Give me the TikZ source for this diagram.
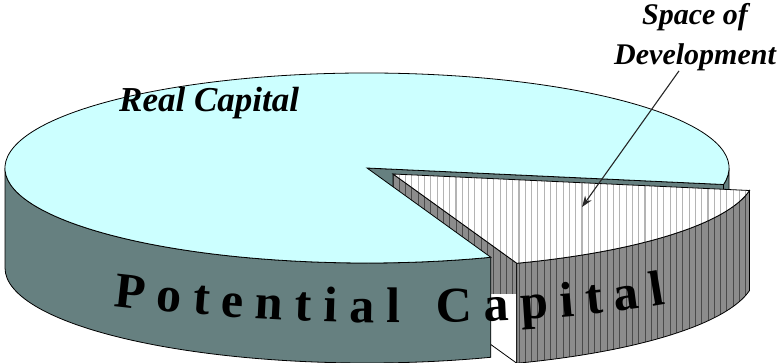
\documentclass[tikz,border=0pt]{standalone}
\usepackage{fontspec}
\setmainfont{Liberation Serif}
\usetikzlibrary{arrows.meta,decorations.text}
\definecolor{topcyan}{HTML}{CCFFFF}
\definecolor{sideteal}{HTML}{668080}
\definecolor{slicegrey}{HTML}{8C8C8C}
\definecolor{darkhatch}{HTML}{4A4A4A}
\definecolor{lighthatch}{HTML}{B4B4B4}
\newcommand\bigsidefont{\fontsize{50}{50}\selectfont\bfseries}
\tikzset{
  edge/.style={draw=black,line width=.8pt},
  topface/.style={edge,fill=topcyan},
  sideface/.style={edge,fill=sideteal},
  darkline/.style={draw=darkhatch,line width=.9pt},
  lightline/.style={draw=lighthatch,line width=1.1pt},
  pointer/.style={-{Stealth[length=11pt,width=8pt]},draw=black!85,line width=1.1pt},
  sign/.style={font=\fontsize{30}{40}\selectfont\bfseries\itshape,inner sep=0pt,align=center}
}

\begin{document}
\begin{tikzpicture}[x=1pt,y=1pt]
  \useasboundingbox (0,0) rectangle (778,362);

  % back faces of the big piece (cut face along the right edge)
  \begin{scope}[shift={(367,194)},x radius=362pt,y radius=95pt]
    \path[sideface] (0,0) -- (-10:362pt and 95pt) -- ++(0,-100) -- (0,-100) -- cycle;
    \path[sideface] (-10:362pt and 95pt) arc[start angle=-10,end angle=0] -- ++(0,-100) arc[start angle=0,end angle=-10] -- cycle;
  \end{scope}

  % cut face of the pulled-out slice
  \begin{scope}[shift={(393,188)}]
    \begin{scope}
      \clip (0,0) -- (-70:362pt and 95pt) -- ++(0,-100) -- (0,-100) -- cycle;
      \fill[slicegrey] (-10,-120) rectangle (140,10);
      \foreach \x in {0,6.3,...,140} \draw[darkline] (\x,-120) -- (\x,10);
    \end{scope}
    \path[edge] (0,0) -- (-70:362pt and 95pt) -- ++(0,-100) -- (0,-100) -- cycle;
  \end{scope}

  % big piece
  \begin{scope}[shift={(367,194)},x radius=362pt,y radius=95pt]
    \path[sideface] (180:362pt and 95pt) arc[start angle=180,end angle=290] -- ++(0,-100) arc[start angle=290,end angle=180] -- cycle;
    \path[topface] (0,0) -- (-10:362pt and 95pt) arc[start angle=-10,end angle=290] -- cycle;
  \end{scope}

  % slice: curved side and top
  \begin{scope}[shift={(393,188)},x radius=362pt,y radius=95pt]
    \begin{scope}
      \clip (-70:362pt and 95pt) arc[start angle=-70,end angle=-10] -- ++(0,-100) arc[start angle=-10,end angle=-70] -- cycle;
      \fill[slicegrey] (100,-220) rectangle (370,0);
      \foreach \x in {0,6.3,...,370} \draw[darkline] (\x,-220) -- (\x,0);
    \end{scope}
    \path[edge] (-70:362pt and 95pt) arc[start angle=-70,end angle=-10] -- ++(0,-100) arc[start angle=-10,end angle=-70] -- cycle;
    \begin{scope}
      \clip (0,0) -- (-70:362pt and 95pt) arc[start angle=-70,end angle=-10] -- cycle;
      \fill[white] (-10,-100) rectangle (370,10);
      \foreach \x in {0,6.3,...,370} \draw[lightline] (\x,-100) -- (\x,10);
    \end{scope}
    \path[edge] (0,0) -- (-70:362pt and 95pt) arc[start angle=-70,end angle=-10] -- cycle;
  \end{scope}

  \node[sign,font=\fontsize{35}{40}\selectfont\bfseries\itshape,anchor=base west] (real) at (119,250) {Real Capital};
  \node[sign,anchor=north] (space) at (695,359) {Space of\\Development};
  \coordinate (tip) at (582,155);
  \draw[pointer] ([xshift=-16pt]space.south) -- (tip);

  \path[decorate,decoration={text along path,text align={fit to path},
    text={|\bigsidefont|Potential Capital}}]
    (113,56) .. controls (300,34) and (520,32) .. (666,58);
\end{tikzpicture}
\end{document}
